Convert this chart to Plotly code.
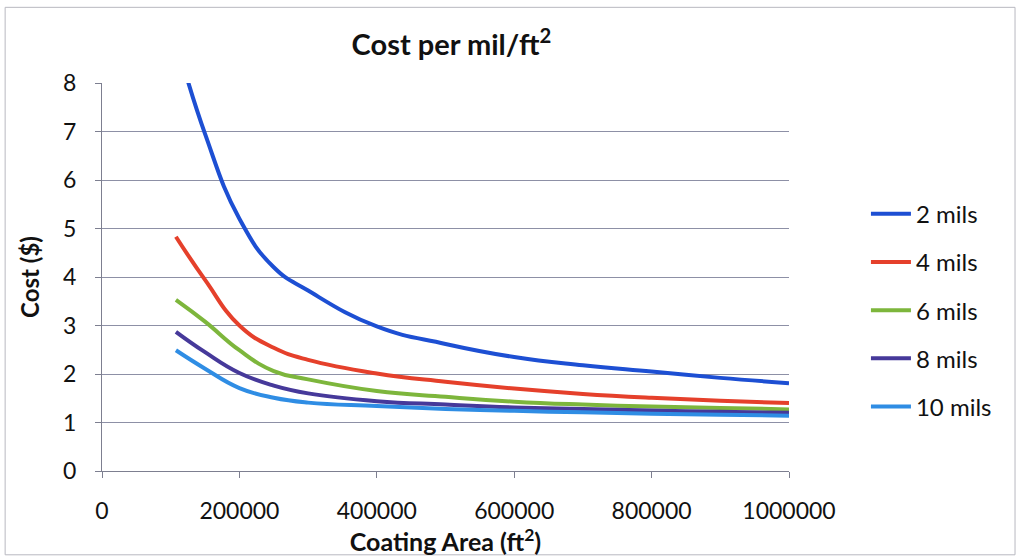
import plotly.graph_objects as go

# Coating area (ft^2) sample points
area = [107600, 150000, 200000, 250000, 300000, 400000, 500000,
        600000, 700000, 800000, 900000, 1000000]

# Cost per mil/ft^2 for each coating thickness
cost_2_mils = [8.9, 6.95, 5.2, 4.2, 3.72, 2.98, 2.62, 2.35, 2.18, 2.05, 1.92, 1.81]
cost_4_mils = [4.83, 3.94, 3.0, 2.54, 2.29, 2.01, 1.84, 1.70, 1.59, 1.51, 1.45, 1.40]
cost_6_mils = [3.53, 3.08, 2.49, 2.06, 1.89, 1.65, 1.53, 1.43, 1.37, 1.33, 1.30, 1.27]
cost_8_mils = [2.87, 2.45, 2.02, 1.76, 1.60, 1.44, 1.37, 1.31, 1.28, 1.25, 1.22, 1.20]
cost_10_mils = [2.49, 2.11, 1.71, 1.51, 1.41, 1.34, 1.28, 1.24, 1.21, 1.18, 1.16, 1.14]

series_names = ["2 mils", "4 mils", "6 mils", "8 mils", "10 mils"]
series_values = [cost_2_mils, cost_4_mils, cost_6_mils, cost_8_mils, cost_10_mils]
series_colors = ["#1d4fd3", "#e5402b", "#7db63c", "#46399a", "#2f8de4"]

x_ticks = [0, 200000, 400000, 600000, 800000, 1000000]
y_ticks = [0, 1, 2, 3, 4, 5, 6, 7, 8]

FONT = "Lato, 'Open Sans', sans-serif"

fig = go.Figure()
for i, (name, vals, col) in enumerate(zip(series_names, series_values, series_colors)):
    fig.add_trace(go.Scatter(
        x=area, y=vals, name=name, mode="lines",
        line=dict(color=col, width=4, shape="spline", smoothing=1.3),
        legendgroup=f"g{i}",
    ))

fig.update_layout(
    width=1019, height=559,
    margin=dict(l=102, r=230, t=83, b=88, autoexpand=False),
    paper_bgcolor="white", plot_bgcolor="white",
    font=dict(family=FONT, size=22, color="#111111"),
    title=dict(
        text="<b>Cost per mil/ft<sup>2</sup></b>",
        x=0.443, xref="container", xanchor="center",
        y=1 - 45 / 559, yref="container", yanchor="middle",
        font=dict(family=FONT, size=29, color="#111111"),
    ),
    showlegend=True,
    legend=dict(
        x=1.112, y=0.72, xanchor="left", yanchor="top",
        font=dict(family=FONT, size=24, color="#111111"),
        tracegroupgap=14, itemwidth=40,
        bgcolor="rgba(0,0,0,0)",
    ),
    xaxis=dict(
        range=[0, 1000000], tickvals=x_ticks,
        ticktext=[str(v) for v in x_ticks],
        showgrid=False, zeroline=False,
        showline=True, linecolor="#7d7f90", linewidth=1,
        ticks="outside", ticklen=6, tickcolor="#7d7f90",
        ticklabelstandoff=13,
        tickfont=dict(family=FONT, size=23, color="#111111"),
        title=dict(text="<b>Coating Area (ft<sup>2</sup>)</b>", standoff=3,
                   font=dict(family=FONT, size=25, color="#111111")),
        automargin=False,
    ),
    yaxis=dict(
        range=[0, 8], tickvals=y_ticks,
        showgrid=True, gridcolor="#8d90a6", gridwidth=1,
        zeroline=False,
        showline=True, linecolor="#7d7f90", linewidth=1,
        ticks="outside", ticklen=6, tickcolor="#7d7f90",
        ticklabelstandoff=14,
        tickfont=dict(family=FONT, size=23, color="#111111"),
        title=dict(text="<b>Cost ($)</b>", standoff=16,
                   font=dict(family=FONT, size=24, color="#111111")),
        automargin=False,
    ),
)

# chart area frame
fig.add_shape(type="rect", xref="paper", yref="paper",
              x0=-0.141, x1=1.329, y0=-0.216, y1=1.195,
              line=dict(color="#b8b8c0", width=1), layer="below")

fig.write_html("out.html")
